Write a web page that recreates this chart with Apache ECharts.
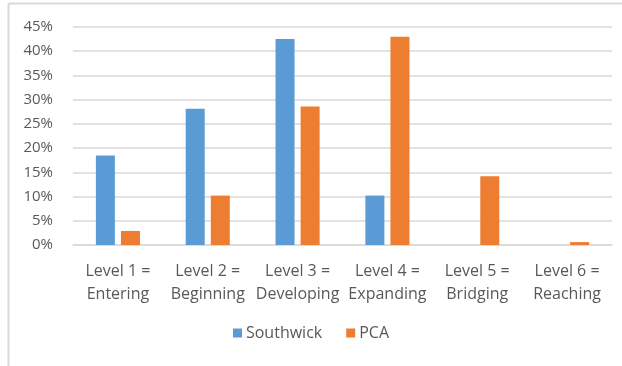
<!DOCTYPE html>
<html><head><meta charset="utf-8">
<script src="https://cdn.jsdelivr.net/npm/echarts@6/dist/echarts.min.js"></script>
<style>html,body{margin:0;padding:0;background:#fff}#c{width:622px;height:366px}</style>
</head><body><div id="c"></div>
<script>
const categories = ["Level 1 =\nEntering","Level 2 =\nBeginning","Level 3 =\nDeveloping","Level 4 =\nExpanding","Level 5 =\nBridging","Level 6 =\nReaching"];
const southwick = [18.5, 28.1, 42.5, 10.2, 0, 0];
const pca = [2.9, 10.2, 28.6, 43.0, 14.2, 0.6];
const yTicks = [0,5,10,15,20,25,30,35,40,45];

const chart = echarts.init(document.getElementById('c'), null, {renderer:'canvas'});
const font = 'Open Sans';
chart.setOption({
  animation:false,
  backgroundColor:'#fff',
  textStyle:{fontFamily:font},
  graphic:[
    {type:'line', shape:{x1:8.5,y1:3.5,x2:622,y2:3.5}, style:{stroke:'#d9d9d9',lineWidth:2}},
    {type:'line', shape:{x1:8.5,y1:3.5,x2:8.5,y2:366}, style:{stroke:'#d9d9d9',lineWidth:2}}
  ],
  grid:{left:73,right:10,top:27,bottom:121,containLabel:false},
  legend:{
    data:['Southwick','PCA'], bottom:20, left:'center',
    itemWidth:9,itemHeight:9,itemGap:24,icon:'rect',
    textStyle:{fontFamily:font,fontSize:16,color:'#595959',padding:[0,0,0,-1]}
  },
  xAxis:{
    type:'category', data:categories,
    axisLine:{lineStyle:{color:'#d9d9d9',width:1.5}},
    axisTick:{show:false},
    axisLabel:{fontFamily:font,fontSize:16,color:'#595959',lineHeight:23,margin:15,interval:0}
  },
  yAxis:{
    type:'value', min:0, max:45, interval:5,
    axisLine:{show:false}, axisTick:{show:false},
    splitLine:{lineStyle:{color:'#d9d9d9',width:1.5}},
    axisLabel:{fontFamily:font,fontSize:15,color:'#595959',margin:20,formatter:v=>v+'%'}
  },
  series:[
    {name:'Southwick',type:'bar',data:southwick,barWidth:19,barGap:'32%',itemStyle:{color:'#5B9BD5'}},
    {name:'PCA',type:'bar',data:pca,barWidth:19,itemStyle:{color:'#ED7D31'}}
  ]
});
</script></body></html>
